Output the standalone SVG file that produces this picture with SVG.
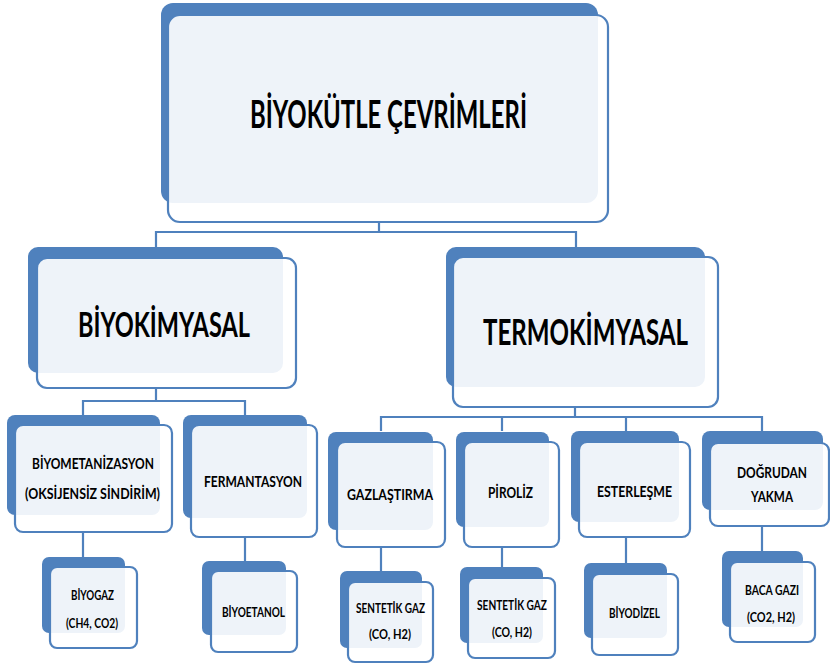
<svg xmlns="http://www.w3.org/2000/svg" width="830" height="668" viewBox="0 0 830 668">
<style>
.back{fill:#4F81BD}
.front{fill:#FFFFFF;fill-opacity:0.9;stroke:#4F81BD;stroke-width:2.2}
.conn{stroke:#4F81BD;stroke-width:2.2;fill:none}
text{font-family:Lato,"Open Sans","Liberation Sans",sans-serif;font-weight:bold;fill:#000;text-anchor:start}
</style>
<rect width="830" height="668" fill="#FFFFFF"/>
<g id="connectors">
<path class="conn" d="M379,222V232M156,247V232H576V247"/>
<path class="conn" d="M156,388V401M83,415V401H245V415"/>
<path class="conn" d="M575,407V417M381,431V417H762V431M502,417V431M626,417V431"/>
<path class="conn" d="M83,532V557M245,537V561M381,547V571M502,547V567M626,537V563M762,526V551"/>
</g>
<g id="root">
<rect class="back" x="161" y="3" width="437" height="200" rx="12"/>
<rect class="front" x="168" y="15" width="440" height="207" rx="12"/>
<text x="250" y="128" font-size="38" textLength="277" lengthAdjust="spacingAndGlyphs">BİYOKÜTLE ÇEVRİMLERİ</text>
</g>
<g id="biyokimyasal">
<rect class="back" x="28" y="247" width="255" height="126" rx="10"/>
<rect class="front" x="37" y="258" width="259" height="130" rx="10"/>
<text x="78" y="337" font-size="34" textLength="172" lengthAdjust="spacingAndGlyphs">BİYOKİMYASAL</text>
</g>
<g id="termokimyasal">
<rect class="back" x="446" y="247" width="259" height="140" rx="10"/>
<rect class="front" x="453" y="257" width="265" height="150" rx="10"/>
<text x="483" y="345" font-size="36" textLength="205" lengthAdjust="spacingAndGlyphs">TERMOKİMYASAL</text>
</g>
<g id="biyometanizasyon">
<rect class="back" x="7" y="415" width="153" height="100" rx="8"/>
<rect class="front" x="15" y="425" width="157" height="107" rx="8"/>
<text x="32" y="469" font-size="15" textLength="122" lengthAdjust="spacingAndGlyphs">BİYOMETANİZASYON</text>
<text x="25" y="499" font-size="15" textLength="135" lengthAdjust="spacingAndGlyphs">(OKSİJENSİZ SİNDİRİM)</text>
</g>
<g id="fermantasyon">
<rect class="back" x="183" y="415" width="124" height="103" rx="8"/>
<rect class="front" x="191" y="425" width="126" height="112" rx="8"/>
<text x="204" y="487" font-size="15" textLength="98" lengthAdjust="spacingAndGlyphs">FERMANTASYON</text>
</g>
<g id="gazlastirma">
<rect class="back" x="328" y="432" width="105" height="98" rx="8"/>
<rect class="front" x="337" y="442" width="108" height="105" rx="8"/>
<text x="347" y="500" font-size="15" textLength="86" lengthAdjust="spacingAndGlyphs">GAZLAŞTIRMA</text>
</g>
<g id="piroliz">
<rect class="back" x="456" y="432" width="93" height="95" rx="8"/>
<rect class="front" x="464" y="442" width="95" height="105" rx="8"/>
<text x="488" y="498" font-size="15" textLength="45" lengthAdjust="spacingAndGlyphs">PİROLİZ</text>
</g>
<g id="esterlesme">
<rect class="back" x="571" y="431" width="108" height="91" rx="8"/>
<rect class="front" x="579" y="442" width="111" height="95" rx="8"/>
<text x="597" y="497" font-size="15" textLength="75" lengthAdjust="spacingAndGlyphs">ESTERLEŞME</text>
</g>
<g id="dogrudan-yakma">
<rect class="back" x="702" y="431" width="121" height="79" rx="8"/>
<rect class="front" x="710" y="443" width="119" height="83" rx="8"/>
<text x="737" y="478" font-size="15" textLength="70" lengthAdjust="spacingAndGlyphs">DOĞRUDAN</text>
<text x="751" y="502" font-size="15" textLength="42" lengthAdjust="spacingAndGlyphs">YAKMA</text>
</g>
<g id="biyogaz">
<rect class="back" x="42" y="557" width="83" height="76" rx="7"/>
<rect class="front" x="50" y="567" width="87" height="81" rx="7"/>
<text x="71" y="600" font-size="12.5" textLength="43" lengthAdjust="spacingAndGlyphs">BİYOGAZ</text>
<text x="66" y="628" font-size="12.5" textLength="52" lengthAdjust="spacingAndGlyphs">(CH4, CO2)</text>
</g>
<g id="biyoetanol">
<rect class="back" x="202" y="561" width="84" height="74" rx="7"/>
<rect class="front" x="211" y="571" width="86" height="81" rx="7"/>
<text x="222" y="617" font-size="12.5" textLength="63" lengthAdjust="spacingAndGlyphs">BİYOETANOL</text>
</g>
<g id="sentetik-gaz-1">
<rect class="back" x="340" y="571" width="82" height="77" rx="7"/>
<rect class="front" x="348" y="582" width="85" height="80" rx="7"/>
<text x="356" y="613" font-size="12.5" textLength="69" lengthAdjust="spacingAndGlyphs">SENTETİK GAZ</text>
<text x="369" y="639" font-size="12.5" textLength="42" lengthAdjust="spacingAndGlyphs">(CO, H2)</text>
</g>
<g id="sentetik-gaz-2">
<rect class="back" x="460" y="567" width="83" height="76" rx="7"/>
<rect class="front" x="468" y="578" width="87" height="80" rx="7"/>
<text x="477" y="610" font-size="12.5" textLength="70" lengthAdjust="spacingAndGlyphs">SENTETİK GAZ</text>
<text x="492" y="637" font-size="12.5" textLength="40" lengthAdjust="spacingAndGlyphs">(CO, H2)</text>
</g>
<g id="biyodizel">
<rect class="back" x="584" y="563" width="83" height="75" rx="7"/>
<rect class="front" x="592" y="574" width="86" height="81" rx="7"/>
<text x="609" y="618" font-size="12.5" textLength="51" lengthAdjust="spacingAndGlyphs">BİYODİZEL</text>
</g>
<g id="baca-gazi">
<rect class="back" x="722" y="551" width="81" height="76" rx="7"/>
<rect class="front" x="730" y="562" width="85" height="80" rx="7"/>
<text x="745" y="595" font-size="12.5" textLength="54" lengthAdjust="spacingAndGlyphs">BACA GAZI</text>
<text x="747" y="622" font-size="12.5" textLength="48" lengthAdjust="spacingAndGlyphs">(CO2, H2)</text>
</g>
</svg>
